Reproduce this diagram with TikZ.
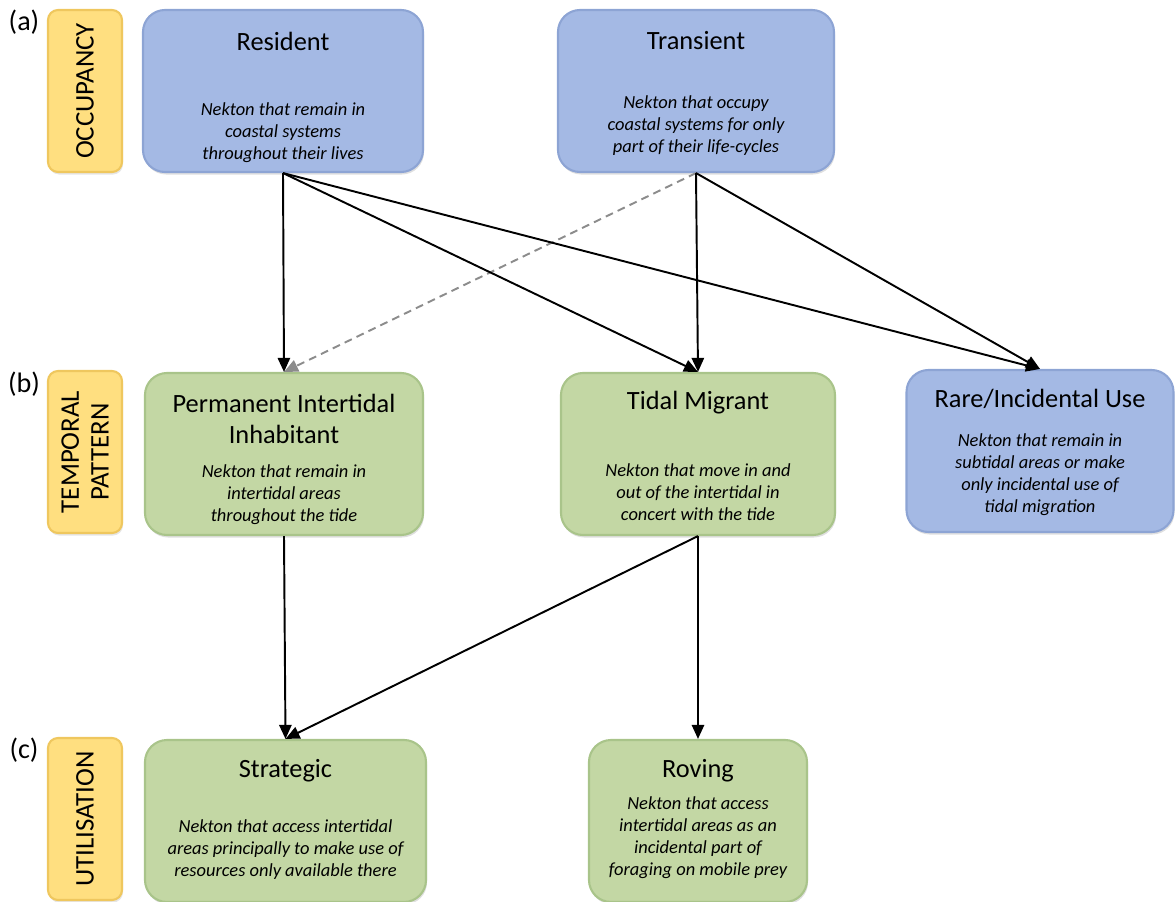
\documentclass[tikz,border=0pt]{standalone}
\usepackage{fontspec}
\setmainfont{Carlito}
\usepackage{xcolor}
\usepackage{tikz}
\usetikzlibrary{calc,arrows.meta,shadows}
\definecolor{bluefill}{HTML}{A4B9E4}
\definecolor{blueedge}{HTML}{8DA4D4}
\definecolor{greenfill}{HTML}{C3D7A4}
\definecolor{greenedge}{HTML}{A9C48A}
\definecolor{tagfill}{HTML}{FFDF80}
\definecolor{tagedge}{HTML}{EFC75E}
\definecolor{dashgray}{HTML}{8C8C8C}
\tikzset{
  box/.style={rounded corners=0.44cm, line width=1.2pt, inner sep=0pt, minimum height=3.24cm,
    drop shadow={shadow xshift=0.02cm, shadow yshift=-0.05cm, opacity=0.25}},
  bluebox/.style={box, fill=bluefill, draw=blueedge},
  greenbox/.style={box, fill=greenfill, draw=greenedge},
  tagbox/.style={rounded corners=0.2cm, line width=1.2pt, fill=tagfill, draw=tagedge,
    minimum width=1.48cm, minimum height=3.24cm, inner sep=0pt,
    drop shadow={shadow xshift=0.02cm, shadow yshift=-0.05cm, opacity=0.2}},
  tagtext/.style={font=\fontsize{15.3}{17}\selectfont, align=center, rotate=90, inner sep=0pt},
  ttl/.style={font=\fontsize{15}{18}\selectfont, align=center, inner sep=0pt},
  dsc/.style={font=\fontsize{10.5}{12.5}\selectfont\itshape, align=center, inner sep=0pt},
  lab/.style={font=\fontsize{16}{18}\selectfont, inner sep=0pt},
  arr/.style={draw=black, line width=1.1pt, -{Triangle[length=8pt,width=7pt]}},
  dsh/.style={draw=dashgray, line width=1.1pt, dash pattern=on 4.5pt off 3pt,
    -{Triangle[length=8pt,width=7pt]}}
}

\begin{document}
\begin{tikzpicture}
  \useasboundingbox (0,0) rectangle (23.52,-18.04);

  % row labels
  \node[lab] (la) at (0.48,-0.44) {(a)};
  \node[lab] (lb) at (0.48,-7.68) {(b)};
  \node[lab] (lc) at (0.48,-15.00) {(c)};
  \node[tagbox] (occ) at (1.70,-1.82) {};
  \node[tagtext] at (occ.center) {OCCUPANCY};
  \node[tagbox] (tmp) at (1.70,-9.04) {};
  \node[tagtext] at (tmp.center) {TEMPORAL\\PATTERN};
  \node[tagbox] (uti) at (1.70,-16.38) {};
  \node[tagtext] at (uti.center) {UTILISATION};

  % occupancy
  \node[bluebox, minimum width=5.6cm] (res) at (5.66,-1.82) {};
  \node[ttl] (res-t) at ($(res.north)+(0,-0.64)$) {Resident};
  \node[dsc] (res-d) at ($(res.north)+(0,-2.48)$) {Nekton that remain in\\coastal systems\\throughout their lives};

  \node[bluebox, minimum width=5.52cm] (tra) at (13.92,-1.82) {};
  \node[ttl] (tra-t) at ($(tra.north)+(0,-0.64)$) {Transient};
  \node[dsc] (tra-d) at ($(tra.north)+(0,-2.34)$) {Nekton that occupy\\coastal systems for only\\part of their life-cycles};

  % temporal pattern
  \node[greenbox, minimum width=5.56cm] (pti) at (5.68,-9.08) {};
  \node[ttl] (pti-t) at ($(pti.north)+(0,-0.94)$) {Permanent Intertidal\\Inhabitant};
  \node[dsc] (pti-d) at ($(pti.north)+(0,-2.46)$) {Nekton that remain in\\intertidal areas\\throughout the tide};

  \node[greenbox, minimum width=5.48cm] (tmi) at (13.96,-9.08) {};
  \node[ttl] (tmi-t) at ($(tmi.north)+(0,-0.62)$) {Tidal Migrant};
  \node[dsc] (tmi-d) at ($(tmi.north)+(0,-2.40)$) {Nekton that move in and\\out of the intertidal in\\concert with the tide};

  \node[bluebox, minimum width=5.34cm] (rar) at (20.80,-9.02) {};
  \node[ttl] (rar-t) at ($(rar.north)+(0,-0.60)$) {Rare/Incidental Use};
  \node[dsc] (rar-d) at ($(rar.north)+(0,-2.12)$) {Nekton that remain in\\subtidal areas or make\\only incidental use of\\tidal migration};

  % utilisation
  \node[greenbox, minimum width=5.62cm] (str) at (5.71,-16.42) {};
  \node[ttl] (str-t) at ($(str.north)+(0,-0.64)$) {Strategic};
  \node[dsc] (str-d) at ($(str.north)+(0,-2.22)$) {Nekton that access intertidal\\areas principally to make use of\\resources only available there};

  \node[greenbox, minimum width=4.36cm] (rov) at (13.96,-16.42) {};
  \node[ttl] (rov-t) at ($(rov.north)+(0,-0.64)$) {Roving};
  \node[dsc] (rov-d) at ($(rov.north)+(0,-1.98)$) {Nekton that access\\intertidal areas as an\\incidental part of\\foraging on mobile prey};

  % links
  \draw[dsh] (tra.south) -- (pti.north);
  \draw[arr] (res.south) -- (pti.north);
  \draw[arr] (res.south) -- (tmi.north);
  \draw[arr] (res.south) -- (rar.north);
  \draw[arr] (tra.south) -- (tmi.north);
  \draw[arr] (tra.south) -- (rar.north);
  \draw[arr] (pti.south) -- (str.north);
  \draw[arr] (tmi.south) -- (str.north);
  \draw[arr] (tmi.south) -- (rov.north);
\end{tikzpicture}
\end{document}
